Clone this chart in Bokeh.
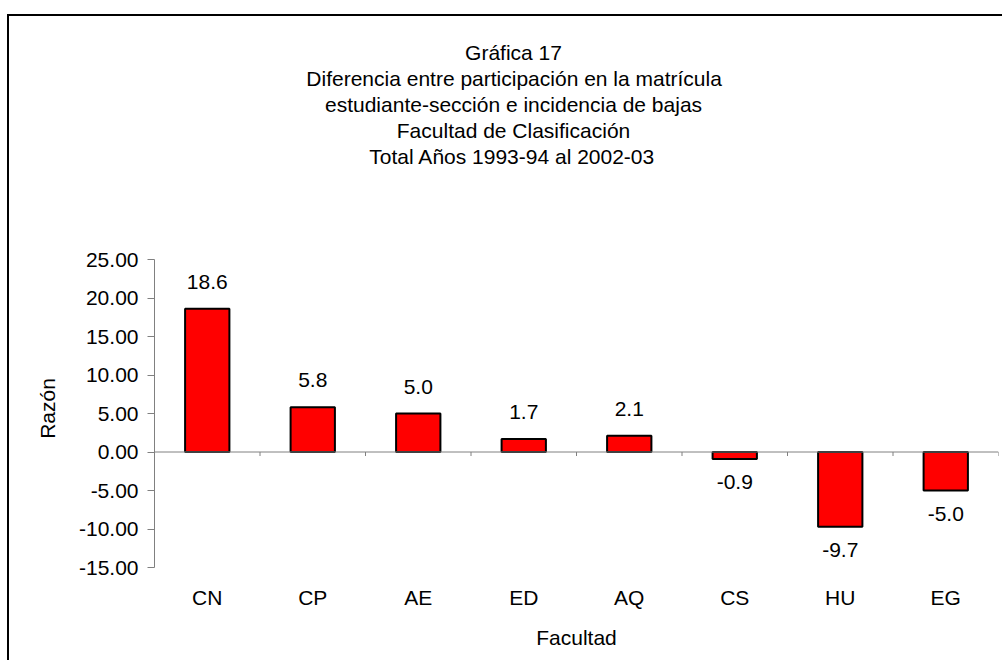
from bokeh.plotting import figure
from bokeh.models import (Range1d, FixedTicker, NumeralTickFormatter, Span,
                          ColumnDataSource, Title)
from bokeh.core.properties import value
from bokeh.embed import file_html
from bokeh.resources import INLINE

# ---- data ----
categories = ["CN", "CP", "AE", "ED", "AQ", "CS", "HU", "EG"]
razon = [18.6, 5.8, 5.0, 1.7, 2.1, -0.9, -9.7, -5.0]
y_ticks = [-15, -10, -5, 0, 5, 10, 15, 20, 25]
title_lines = [
    "Gráfica 17",
    "Diferencia entre participación en la matrícula",
    "estudiante-sección e incidencia de bajas",
    "Facultad de Clasificación",
    "Total Años 1993-94 al 2002-03",
]
x_label = "Facultad"
y_label = "Razón"

FONT = "Liberation Sans"
FS_PX = 21
FS = f"{FS_PX}px"
GRAY = "#808080"

# page placement: chart box starts at (9, 16) on the page
OX, OY = 9, 16
W, H = 1004 - OX, 662 - OY
AXIS_TOP = 259 - OY          # canvas y of the top tick (25.00)
AXIS_BOTTOM = 567 - OY       # canvas y of the bottom tick (-15.00)
TITLE_GAP = 91               # free space between axis top and title block
BL, BR, BB = 154 - OX, 6, H - AXIS_BOTTOM
BT = AXIS_TOP - TITLE_GAP
TITLE_CX = 513 - OX          # title centre in canvas px
YLABEL_CY = 408 - OY         # y-axis label centre in canvas px

ymin, ymax = min(y_ticks), max(y_ticks)
px_per_unit = (AXIS_BOTTOM - AXIS_TOP) / (ymax - ymin)
y_end = ymax + TITLE_GAP / px_per_unit

# Arial / Liberation Sans advance widths (1/1000 em) for centring texts
_AW = {" ": 278, "A": 667, "C": 722, "D": 722, "F": 611, "G": 778, "T": 611,
       "R": 722, "z": 500,
       "a": 556, "b": 556, "c": 500, "d": 556, "e": 556, "f": 278, "i": 222,
       "j": 222, "l": 222, "m": 833, "n": 556, "o": 556, "p": 556, "r": 333,
       "s": 500, "t": 278, "u": 556, "á": 556, "í": 222, "ó": 556, "ñ": 556,
       "-": 333}


def text_w(s):
    return sum(_AW.get(ch, 556) for ch in s) * FS_PX / 1000.0


n = len(categories)
xs = [i + 0.5 for i in range(n)]
src = ColumnDataSource(dict(
    x=xs, top=razon,
    lbl=[f"{v:.1f}" for v in razon],
    yoff=[-27 if v >= 0 else 23 for v in razon],
))

p = figure(width=W, height=H, output_backend="svg", toolbar_location=None,
           x_range=Range1d(0, n), y_range=Range1d(ymin, y_end),
           min_border_left=BL, min_border_right=BR, min_border_top=BT,
           min_border_bottom=BB)
p.outline_line_color = None
p.grid.visible = False
p.styles = {"margin-left": f"{OX}px", "margin-top": f"{OY}px",
            "box-shadow": "-2px -2px 0px 0px black"}

# zero line + boundary ticks
p.add_layout(Span(location=0, dimension="width", line_color=GRAY, line_width=1))
bounds = list(range(n + 1))
p.segment(x0=bounds, x1=bounds, y0=[0] * len(bounds), y1=[-4 / px_per_unit] * len(bounds),
          line_color=GRAY, line_width=1)

# bars
p.vbar(x="x", top="top", bottom=0, width=0.42, source=src,
       fill_color="#FF0000", line_color="black", line_width=2)

# value labels
p.text(x="x", y="top", text="lbl", y_offset="yoff", source=src,
       text_align="center", text_baseline="middle",
       text_font=value(FONT), text_font_size=FS, text_color="black")

# y axis
ya = p.yaxis[0]
ya.ticker = FixedTicker(ticks=y_ticks)
ya.bounds = (ymin, ymax)
ya.formatter = NumeralTickFormatter(format="0.00")
ya.axis_line_color = GRAY
ya.major_tick_line_color = GRAY
ya.major_tick_out = 7
ya.major_tick_in = 0
ya.minor_tick_line_color = None
ya.major_label_standoff = 9
ya.major_label_text_font = FONT
ya.major_label_text_font_size = FS
ya.major_label_text_color = "black"

# y-axis title, centred on the axis extent (not on the taller plot frame)
p.add_layout(Title(text=y_label, align="left",
                   offset=(H - BB - YLABEL_CY) - text_w(y_label) / 2.0,
                   standoff=34, text_font=FONT, text_font_size=FS,
                   text_font_style="normal", text_color="black"), "left")

# x axis (category labels at bottom)
xa = p.xaxis[0]
xa.ticker = FixedTicker(ticks=xs)
xa.major_label_overrides = {x: c for x, c in zip(xs, categories)}
xa.axis_line_color = None
xa.major_tick_line_color = None
xa.minor_tick_line_color = None
xa.major_label_standoff = 12
xa.major_label_text_font = FONT
xa.major_label_text_font_size = FS
xa.major_label_text_color = "black"
xa.axis_label = x_label
xa.axis_label_text_font = FONT
xa.axis_label_text_font_size = FS
xa.axis_label_text_font_style = "normal"
xa.axis_label_text_color = "black"
xa.axis_label_standoff = 14

# title lines, bottom line first (closest to the plot)
for line in reversed(title_lines):
    off = TITLE_CX - BL - text_w(line) / 2.0
    p.add_layout(Title(text=line, align="left", offset=off, standoff=1,
                       text_font=FONT, text_font_size=FS, text_font_style="normal",
                       text_color="black"), "above")

open("out.html", "w").write(file_html(p, INLINE))
